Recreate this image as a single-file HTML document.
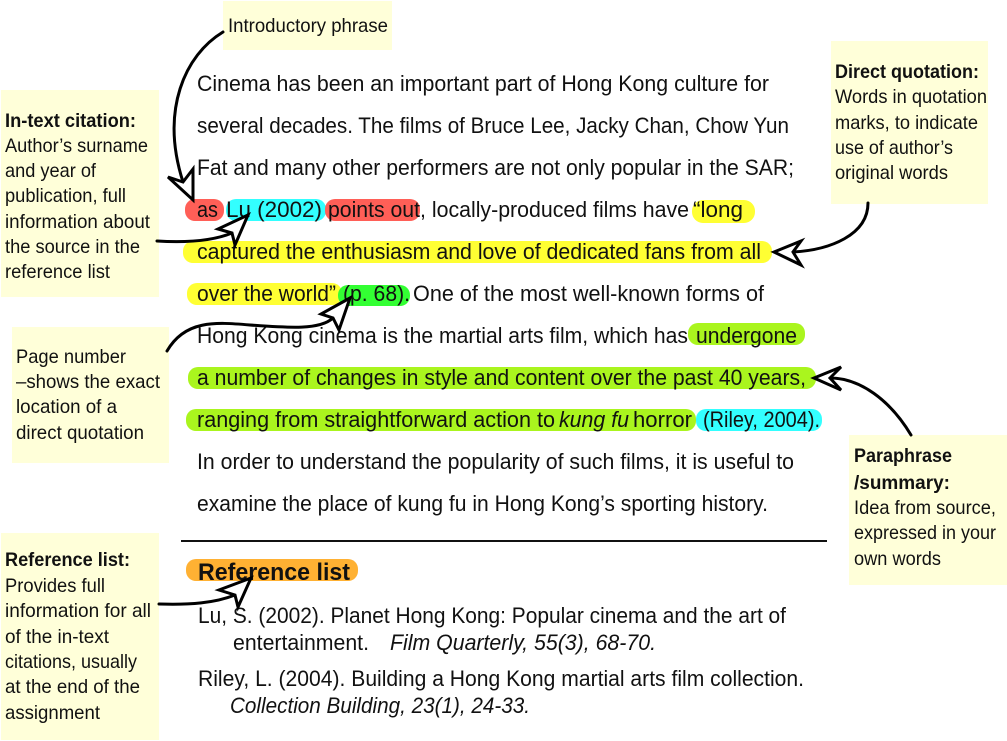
<!DOCTYPE html>
<html><head><meta charset="utf-8">
<style>
html,body{margin:0;padding:0;background:#fff}
svg{display:block}
text{font-family:"Liberation Sans",sans-serif;fill:#111;font-size:22px}
.c text,text.c{font-size:19.5px}
.b{font-weight:bold}
.i{font-style:italic}
</style></head>
<body>
<svg width="1007" height="741" viewBox="0 0 1007 741" xmlns="http://www.w3.org/2000/svg">
<rect width="1007" height="741" fill="#fff"/>
<!-- callouts -->
<g fill="#ffffd9">
<rect x="223" y="1" width="169" height="49"/>
<rect x="1" y="90" width="158" height="207"/>
<rect x="12" y="327" width="157" height="136"/>
<rect x="831" y="41" width="157" height="163"/>
<rect x="849" y="435" width="158" height="150"/>
<rect x="1" y="533" width="158" height="207"/>
</g>
<!-- highlights -->
<rect x="185" y="199" width="39" height="22" rx="10" fill="#ff5f57"/>
<rect x="226" y="199" width="100" height="22" rx="10" fill="#33ffff"/>
<rect x="325" y="199" width="95" height="22" rx="10" fill="#ff5f57"/>
<rect x="692" y="200" width="63" height="23" rx="11" fill="#ffff33"/>
<rect x="183" y="241" width="589" height="22" rx="10" fill="#ffff33"/>
<rect x="187" y="283" width="155" height="22" rx="10" fill="#ffff33"/>
<rect x="338" y="285" width="72" height="21" rx="10" fill="#33ff33"/>
<rect x="688" y="323" width="117" height="22" rx="10" fill="#aaf51e"/>
<rect x="188" y="367" width="628" height="22" rx="10" fill="#aaf51e"/>
<rect x="186" y="409" width="510" height="22" rx="10" fill="#aaf51e"/>
<rect x="696" y="409" width="126" height="22" rx="10" fill="#33ffff"/>
<rect x="186" y="559" width="172" height="22" rx="10" fill="#ffb133"/>
<!-- body text -->
<text x="197" y="91" textLength="572" lengthAdjust="spacingAndGlyphs">Cinema has been an important part of Hong Kong culture for</text>
<text x="197" y="133" textLength="592" lengthAdjust="spacingAndGlyphs">several decades. The films of Bruce Lee, Jacky Chan, Chow Yun</text>
<text x="197" y="175" textLength="597" lengthAdjust="spacingAndGlyphs">Fat and many other performers are not only popular in the SAR;</text>
<text x="197" y="217" textLength="21" lengthAdjust="spacingAndGlyphs">as</text>
<text x="226" y="217" textLength="96" lengthAdjust="spacingAndGlyphs">Lu (2002)</text>
<text x="328" y="217" textLength="92" lengthAdjust="spacingAndGlyphs">points out</text>
<text x="420" y="217" textLength="269" lengthAdjust="spacingAndGlyphs">, locally-produced films have</text>
<text x="693" y="217" textLength="50" lengthAdjust="spacingAndGlyphs">“long</text>
<text x="197" y="259" textLength="564" lengthAdjust="spacingAndGlyphs">captured the enthusiasm and love of dedicated fans from all</text>
<text x="197" y="301" textLength="139" lengthAdjust="spacingAndGlyphs">over the world”</text>
<text x="343" y="301" textLength="67" lengthAdjust="spacingAndGlyphs">(p. 68).</text>
<text x="413" y="301" textLength="351" lengthAdjust="spacingAndGlyphs">One of the most well-known forms of</text>
<text x="197" y="343" textLength="491" lengthAdjust="spacingAndGlyphs">Hong Kong cinema is the martial arts film, which has</text>
<text x="696" y="343" textLength="101" lengthAdjust="spacingAndGlyphs">undergone</text>
<text x="197" y="385" textLength="609" lengthAdjust="spacingAndGlyphs">a number of changes in style and content over the past 40 years,</text>
<text x="197" y="427" textLength="358" lengthAdjust="spacingAndGlyphs">ranging from straightforward action to</text>
<text x="559" y="427" textLength="70" lengthAdjust="spacingAndGlyphs" class="i">kung fu</text>
<text x="633" y="427" textLength="59" lengthAdjust="spacingAndGlyphs">horror</text>
<text x="703" y="427" textLength="117" lengthAdjust="spacingAndGlyphs">(Riley, 2004).</text>
<text x="197" y="469" textLength="597" lengthAdjust="spacingAndGlyphs">In order to understand the popularity of such films, it is useful to</text>
<text x="197" y="511" textLength="571" lengthAdjust="spacingAndGlyphs">examine the place of kung fu in Hong Kong’s sporting history.</text>
<rect x="181" y="540" width="646" height="2" fill="#111"/>
<text x="198" y="580" textLength="152" lengthAdjust="spacingAndGlyphs" class="b" style="font-size:24px">Reference list</text>
<text x="198" y="623" textLength="588" lengthAdjust="spacingAndGlyphs">Lu, S. (2002). Planet Hong Kong: Popular cinema and the art of</text>
<text x="233" y="650" textLength="136" lengthAdjust="spacingAndGlyphs">entertainment.</text>
<text x="390" y="650" textLength="266" lengthAdjust="spacingAndGlyphs" class="i">Film Quarterly, 55(3), 68-70.</text>
<text x="198" y="686" textLength="606" lengthAdjust="spacingAndGlyphs">Riley, L. (2004). Building a Hong Kong martial arts film collection.</text>
<text x="230" y="713" textLength="300" lengthAdjust="spacingAndGlyphs" class="i">Collection Building, 23(1), 24-33.</text>
<!-- callout text -->
<g class="c">
<text x="228" y="32" textLength="160" lengthAdjust="spacingAndGlyphs">Introductory phrase</text>
<text x="5" y="127" textLength="131" lengthAdjust="spacingAndGlyphs" class="b">In-text citation:</text>
<text x="5" y="152" textLength="143" lengthAdjust="spacingAndGlyphs">Author’s surname</text>
<text x="5" y="177" textLength="91" lengthAdjust="spacingAndGlyphs">and year of</text>
<text x="5" y="202" textLength="121" lengthAdjust="spacingAndGlyphs">publication, full</text>
<text x="5" y="228" textLength="145" lengthAdjust="spacingAndGlyphs">information about</text>
<text x="5" y="253" textLength="135" lengthAdjust="spacingAndGlyphs">the source in the</text>
<text x="5" y="278" textLength="105" lengthAdjust="spacingAndGlyphs">reference list</text>
<text x="16" y="363" textLength="110" lengthAdjust="spacingAndGlyphs">Page number</text>
<text x="16" y="388" textLength="144" lengthAdjust="spacingAndGlyphs">–shows the exact</text>
<text x="16" y="413" textLength="101" lengthAdjust="spacingAndGlyphs">location of a</text>
<text x="16" y="439" textLength="128" lengthAdjust="spacingAndGlyphs">direct quotation</text>
<text x="835" y="78" textLength="144" lengthAdjust="spacingAndGlyphs" class="b">Direct quotation:</text>
<text x="835" y="103" textLength="152" lengthAdjust="spacingAndGlyphs">Words in quotation</text>
<text x="835" y="129" textLength="143" lengthAdjust="spacingAndGlyphs">marks, to indicate</text>
<text x="835" y="154" textLength="118" lengthAdjust="spacingAndGlyphs">use of author’s</text>
<text x="835" y="179" textLength="113" lengthAdjust="spacingAndGlyphs">original words</text>
<text x="854" y="462" textLength="98" lengthAdjust="spacingAndGlyphs" class="b">Paraphrase</text>
<text x="854" y="489" textLength="96" lengthAdjust="spacingAndGlyphs" class="b">/summary:</text>
<text x="854" y="514" textLength="142" lengthAdjust="spacingAndGlyphs">Idea from source,</text>
<text x="854" y="539" textLength="142" lengthAdjust="spacingAndGlyphs">expressed in your</text>
<text x="854" y="565" textLength="87" lengthAdjust="spacingAndGlyphs">own words</text>
<text x="5" y="566" textLength="125" lengthAdjust="spacingAndGlyphs" class="b">Reference list:</text>
<text x="5" y="592" textLength="100" lengthAdjust="spacingAndGlyphs">Provides full</text>
<text x="5" y="617" textLength="146" lengthAdjust="spacingAndGlyphs">information for all</text>
<text x="5" y="643" textLength="104" lengthAdjust="spacingAndGlyphs">of the in-text</text>
<text x="5" y="668" textLength="132" lengthAdjust="spacingAndGlyphs">citations, usually</text>
<text x="5" y="693" textLength="135" lengthAdjust="spacingAndGlyphs">at the end of the</text>
<text x="5" y="719" textLength="95" lengthAdjust="spacingAndGlyphs">assignment</text>
</g>
<!-- arrows -->
<g fill="none" stroke="#000" stroke-width="3" stroke-linecap="round" stroke-linejoin="miter">
<path d="M223,32 C185,55 160,110 183,182"/>
<polygon points="193,200 193,169 183,182 168,177" fill="#fff"/>
<path d="M157,241 C190,243 215,240 232,233"/>
<polygon points="248,215 218,229 232,233 235,245" fill="#fff"/>
<path d="M167,351 C185,320 215,322 250,325 C290,328 320,330 333,318"/>
<polygon points="350,298 321,314 333,318 339,330" fill="#fff"/>
<path d="M159,604 C190,605 215,603 235,595"/>
<polygon points="251,578 219,590 235,595 238,607" fill="#fff"/>
<path d="M868,203 C868,235 830,250 793,252"/>
<polygon points="774,252 801,241 793,252 801,265" fill="#fff"/>
<path d="M911,435 C890,400 860,378 830,378"/>
<polygon points="814,378 841,367 830,378 841,390" fill="#fff"/>
</g>
</svg>
</body></html>
